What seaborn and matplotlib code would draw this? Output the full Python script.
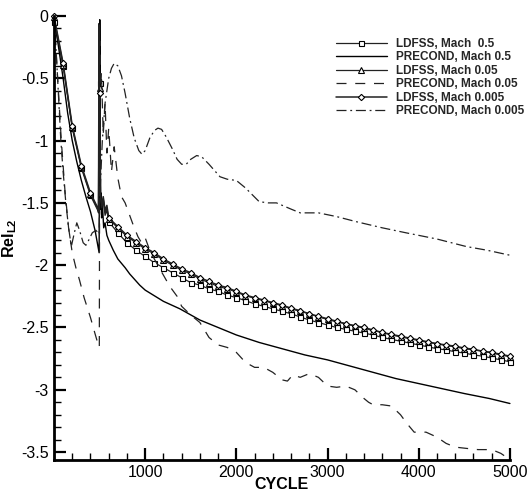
import matplotlib
matplotlib.use("Agg")
import matplotlib.pyplot as plt
import seaborn as sns
from matplotlib.ticker import MultipleLocator

# LDFSS runs (sampled every 100 cycles, extra points around the restart at ~500)
ld_x = [0, 100, 200, 300, 400, 480, 488, 494, 500, 510, 525, 540, 560, 580] + list(range(600, 5001, 100))
ld_m05 = [-0.05, -0.40, -0.90, -1.22, -1.44, -1.56, -1.58, -0.06, -0.54, -1.45, -1.56, -1.47, -1.60, -1.56,
          -1.65, -1.74, -1.82, -1.88, -1.93, -1.98, -2.02, -2.06, -2.10, -2.14, -2.16, -2.19, -2.21, -2.24,
          -2.26, -2.285, -2.31, -2.33, -2.35, -2.37, -2.39, -2.415, -2.44, -2.46, -2.48, -2.50, -2.515, -2.53,
          -2.545, -2.56, -2.58, -2.595, -2.61, -2.625, -2.64, -2.655, -2.67, -2.68, -2.695, -2.705, -2.72,
          -2.73, -2.745, -2.76, -2.775]
ld_m005 = [-0.01, -0.39, -0.89, -1.21, -1.43, -1.55, -1.57, -0.07, -0.58, -1.46, -1.54, -1.46, -1.58, -1.54,
           -1.63, -1.70, -1.77, -1.82, -1.87, -1.91, -1.96, -2.00, -2.04, -2.07, -2.11, -2.14, -2.17, -2.19,
           -2.215, -2.245, -2.265, -2.285, -2.305, -2.325, -2.35, -2.37, -2.39, -2.415, -2.435, -2.455, -2.47,
           -2.49, -2.505, -2.525, -2.54, -2.56, -2.575, -2.59, -2.605, -2.62, -2.63, -2.645, -2.655, -2.67,
           -2.68, -2.69, -2.705, -2.72, -2.735]
ld_m0005 = [0.0, -0.38, -0.88, -1.20, -1.42, -1.54, -1.56, -0.08, -0.62, -1.44, -1.52, -1.45, -1.56, -1.52,
            -1.62, -1.69, -1.76, -1.81, -1.86, -1.90, -1.95, -1.99, -2.03, -2.06, -2.10, -2.13, -2.16, -2.18,
            -2.21, -2.24, -2.26, -2.28, -2.30, -2.32, -2.345, -2.365, -2.39, -2.41, -2.43, -2.45, -2.47, -2.485,
            -2.50, -2.52, -2.54, -2.555, -2.57, -2.585, -2.60, -2.615, -2.63, -2.64, -2.65, -2.665, -2.675,
            -2.69, -2.70, -2.715, -2.73]

# PRECOND runs
pc05_x = [0, 50, 100, 150, 200, 250, 300, 350, 400, 450, 495, 502, 507, 511, 515, 522, 530, 545, 560, 580,
          600, 650, 700, 780, 830, 940, 1000, 1200, 1380, 1600, 1800, 2000, 2250, 2500, 2750, 3000, 3250,
          3500, 3750, 4000, 4250, 4500, 4775, 5000]
pc05_y = [0.0, -0.25, -0.50, -0.78, -1.00, -1.17, -1.32, -1.45, -1.57, -1.72, -1.90, -0.03, -0.90, -1.55,
          -1.42, -1.62, -1.50, -1.70, -1.66, -1.76, -1.80, -1.88, -1.95, -2.02, -2.07, -2.16, -2.20, -2.29,
          -2.35, -2.44, -2.50, -2.56, -2.62, -2.67, -2.72, -2.76, -2.81, -2.86, -2.91, -2.95, -2.99, -3.03,
          -3.07, -3.11]

pc005_x = [0, 40, 80, 120, 160, 200, 240, 280, 330, 400, 450, 490, 497, 503, 510, 520, 540, 560, 580, 600,
           630, 660, 700, 740, 780, 830, 870, 920, 960, 1000, 1040, 1100, 1200, 1270, 1350, 1400, 1500, 1600,
           1700, 1800, 1900, 2000, 2100, 2200, 2300, 2400, 2500, 2560, 2620, 2700, 2800, 2900, 3000, 3100,
           3200, 3300, 3400, 3450, 3500, 3600, 3700, 3800, 3870, 3950, 4080, 4200, 4300, 4400, 4520, 4650,
           4800, 4900, 5000]
pc005_y = [0.0, -0.50, -1.00, -1.40, -1.70, -1.90, -2.02, -2.12, -2.26, -2.42, -2.55, -2.65, -2.66, -0.20,
           -0.65, -0.45, -0.95, -0.70, -1.10, -0.90, -1.25, -1.05, -1.30, -1.45, -1.50, -1.60, -1.68, -1.77,
           -1.82, -1.78, -1.86, -1.95, -2.08, -2.17, -2.25, -2.33, -2.40, -2.46, -2.58, -2.64, -2.66, -2.70,
           -2.78, -2.82, -2.82, -2.86, -2.92, -2.93, -2.88, -2.90, -2.87, -2.90, -2.97, -2.98, -2.97, -3.00,
           -3.07, -3.10, -3.12, -3.12, -3.13, -3.20, -3.27, -3.34, -3.34, -3.38, -3.43, -3.46, -3.47, -3.48,
           -3.48, -3.51, -3.56]

pc0005_x = [0, 25, 50, 75, 100, 130, 160, 190, 220, 250, 280, 320, 350, 380, 420, 460, 495, 500, 530, 560,
            600, 630, 660, 700, 740, 780, 830, 880, 930, 965, 1000, 1050, 1100, 1140, 1180, 1230, 1300, 1350,
            1400, 1450, 1500, 1565, 1620, 1700, 1820, 1900, 2000, 2100, 2250, 2350, 2440, 2600, 2700, 2900,
            3100, 3310, 3600, 3860, 4200, 4520, 4750, 5000]
pc0005_y = [0.0, -0.30, -0.65, -1.00, -1.25, -1.50, -1.70, -1.85, -1.75, -1.66, -1.72, -1.82, -1.84, -1.80,
            -1.74, -1.72, -1.75, -1.50, -1.00, -0.70, -0.50, -0.42, -0.38, -0.40, -0.48, -0.62, -0.82, -0.98,
            -1.08, -1.11, -1.08, -0.98, -0.92, -0.90, -0.91, -0.97, -1.07, -1.15, -1.19, -1.19, -1.15, -1.12,
            -1.13, -1.19, -1.29, -1.31, -1.32, -1.38, -1.49, -1.50, -1.50, -1.55, -1.58, -1.58, -1.61, -1.65,
            -1.70, -1.74, -1.79, -1.85, -1.88, -1.92]

labels = ["LDFSS, Mach  0.5", "PRECOND, Mach 0.5", "LDFSS, Mach 0.05",
          "PRECOND, Mach 0.05", "LDFSS, Mach 0.005", "PRECOND, Mach 0.005"]
x_ticks = [1000, 2000, 3000, 4000, 5000]
y_ticks = [0, -0.5, -1, -1.5, -2, -2.5, -3, -3.5]
y_tick_labels = ["0", "-0.5", "-1", "-1.5", "-2", "-2.5", "-3", "-3.5"]

sns.set_theme(style="ticks")
plt.rcParams["font.family"] = ["Liberation Sans", "DejaVu Sans"]
plt.rcParams["mathtext.fontset"] = "custom"
plt.rcParams["mathtext.rm"] = "Liberation Sans"
plt.rcParams["mathtext.bf"] = "Liberation Sans:bold"

fig = plt.figure(figsize=(5.32, 4.92), dpi=100)
ax = fig.add_axes([0.1015, 0.0659, 0.857, 0.9016])

marks = [i for i, c in enumerate(ld_x) if c % 100 == 0]
mk = dict(ms=3.6, mfc="white", mec="black", mew=0.8, markevery=marks)

sns.lineplot(x=ld_x, y=ld_m05, ax=ax, sort=False, color="#222222", lw=0.9, marker="s",
             label=labels[0], clip_on=False, **mk)
sns.lineplot(x=pc05_x, y=pc05_y, ax=ax, sort=False, color="black", lw=1.0,
             label=labels[1], clip_on=False)
sns.lineplot(x=ld_x, y=ld_m005, ax=ax, sort=False, color="#222222", lw=0.9, marker="^",
             label=labels[2], clip_on=False, **dict(mk, ms=3.8))
sns.lineplot(x=pc005_x, y=pc005_y, ax=ax, sort=False, color="#222222", lw=0.9,
             linestyle=(0, (8, 7)), label=labels[3], clip_on=False)
sns.lineplot(x=ld_x, y=ld_m0005, ax=ax, sort=False, color="#222222", lw=1.1, marker="D",
             label=labels[4], clip_on=False, **dict(mk, ms=3.2))
sns.lineplot(x=pc0005_x, y=pc0005_y, ax=ax, sort=False, color="#222222", lw=0.9,
             linestyle=(0, (8, 3, 1.5, 3)), label=labels[5], clip_on=False)

ax.set_xlim(0, 5000)
ax.set_ylim(-3.56, 0)
ax.set_xticks(x_ticks)
ax.set_yticks(y_ticks)
ax.set_yticklabels(y_tick_labels)
ax.xaxis.set_minor_locator(MultipleLocator(200))
ax.yaxis.set_minor_locator(MultipleLocator(0.1))
ax.tick_params(which="major", direction="in", length=8.5, width=1.6, labelsize=11.5,
               pad=4, color="black", labelcolor="black")
ax.tick_params(which="minor", direction="in", length=5, width=1.0, color="black")
for s in ["top", "right"]:
    ax.spines[s].set_visible(False)
for s in ["left", "bottom"]:
    ax.spines[s].set_linewidth(2)
    ax.spines[s].set_color("black")

ax.set_xlabel("CYCLE", fontsize=11.5, fontweight="bold", labelpad=-2, color="black")
ax.set_ylabel(r"Rel$_{\mathbf{L2}}$", fontsize=11.5, fontweight="bold", labelpad=1, color="black")

leg = ax.legend(loc="upper left", bbox_to_anchor=(336 / 532, 1 - 38 / 492),
                bbox_transform=fig.transFigure, frameon=False, borderpad=0, borderaxespad=0,
                handlelength=4.3, handletextpad=0.8, labelspacing=0.12,
                prop={"size": 8.5, "weight": "bold"})

fig.savefig("out.png", dpi=100)
